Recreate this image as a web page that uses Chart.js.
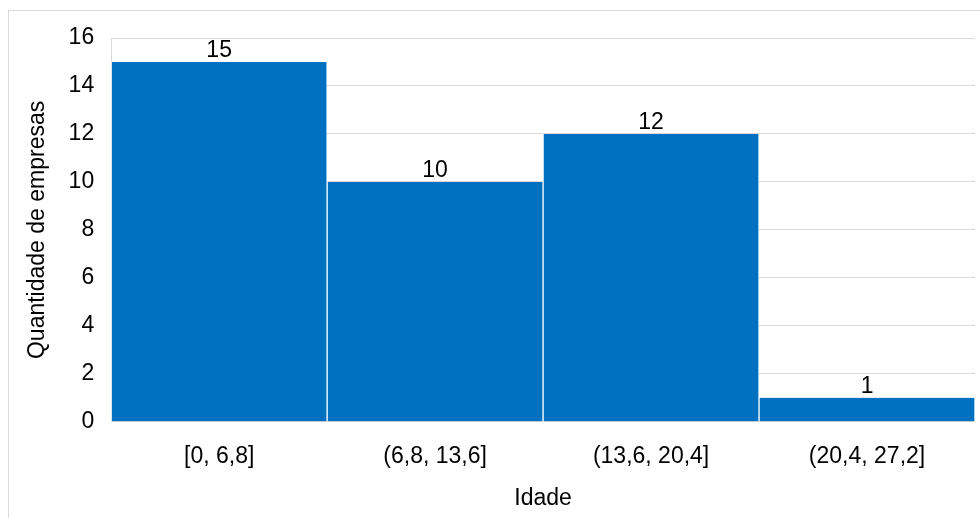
<!DOCTYPE html>
<html>
<head>
<meta charset="utf-8">
<script src="https://cdn.jsdelivr.net/npm/chart.js@4/dist/chart.umd.min.js"></script>
<style>
  body { margin: 0; background: #fff; }
  #wrap { position: relative; width: 980px; height: 518px; }
  #frame { position: absolute; left: 8px; top: 10px; width: 980px; height: 520px; border: 1px solid #d9d9d9; pointer-events: none; }
</style>
</head>
<body>
<div id="wrap">
  <canvas id="hist" width="980" height="518"></canvas>
  <div id="frame"></div>
</div>
<script>
const classes = ['[0, 6,8]', '(6,8, 13,6]', '(13,6, 20,4]', '(20,4, 27,2]'];
const counts = [15, 10, 12, 1];

const font = 'Liberation Sans, Arial, sans-serif';

// value labels above each bar
const barLabels = {
  id: 'barLabels',
  afterDatasetsDraw(chart) {
    const ctx = chart.ctx;
    const meta = chart.getDatasetMeta(0);
    ctx.save();
    ctx.font = '23px ' + font;
    ctx.fillStyle = '#000';
    ctx.textAlign = 'center';
    ctx.textBaseline = 'bottom';
    meta.data.forEach((bar, i) => {
      ctx.fillText(String(counts[i]), bar.x, bar.y);
    });
    ctx.restore();
  }
};

new Chart(document.getElementById('hist'), {
  type: 'bar',
  plugins: [barLabels],
  data: {
    labels: classes,
    datasets: [{
      data: counts,
      backgroundColor: '#0070C0',
      borderColor: '#ffffff',
      borderWidth: { left: 1, right: 1, top: 0, bottom: 0 },
      barPercentage: 1,
      categoryPercentage: 1
    }]
  },
  options: {
    responsive: false,
    animation: false,
    layout: { padding: { top: 38, right: 5, left: 24, bottom: 6 } },
    plugins: { legend: { display: false }, tooltip: { enabled: false } },
    scales: {
      x: {
        grid: { display: false },
        border: { display: false },
        ticks: { color: '#000', font: { family: font, size: 23 }, padding: 13, maxRotation: 0 },
        title: { display: true, text: 'Idade', color: '#000', font: { family: font, size: 23 }, padding: { top: 1, bottom: 0 } }
      },
      y: {
        min: 0,
        max: 16,
        ticks: { stepSize: 2, color: '#000', font: { family: font, size: 23 }, padding: 17 },
        grid: { color: '#d9d9d9', drawTicks: false },
        border: { display: true, color: '#d9d9d9' },
        title: { display: true, text: 'Quantidade de empresas', color: '#000', font: { family: font, size: 23 }, padding: { top: 0, bottom: 0 } }
      }
    }
  }
});
</script>
</body>
</html>
